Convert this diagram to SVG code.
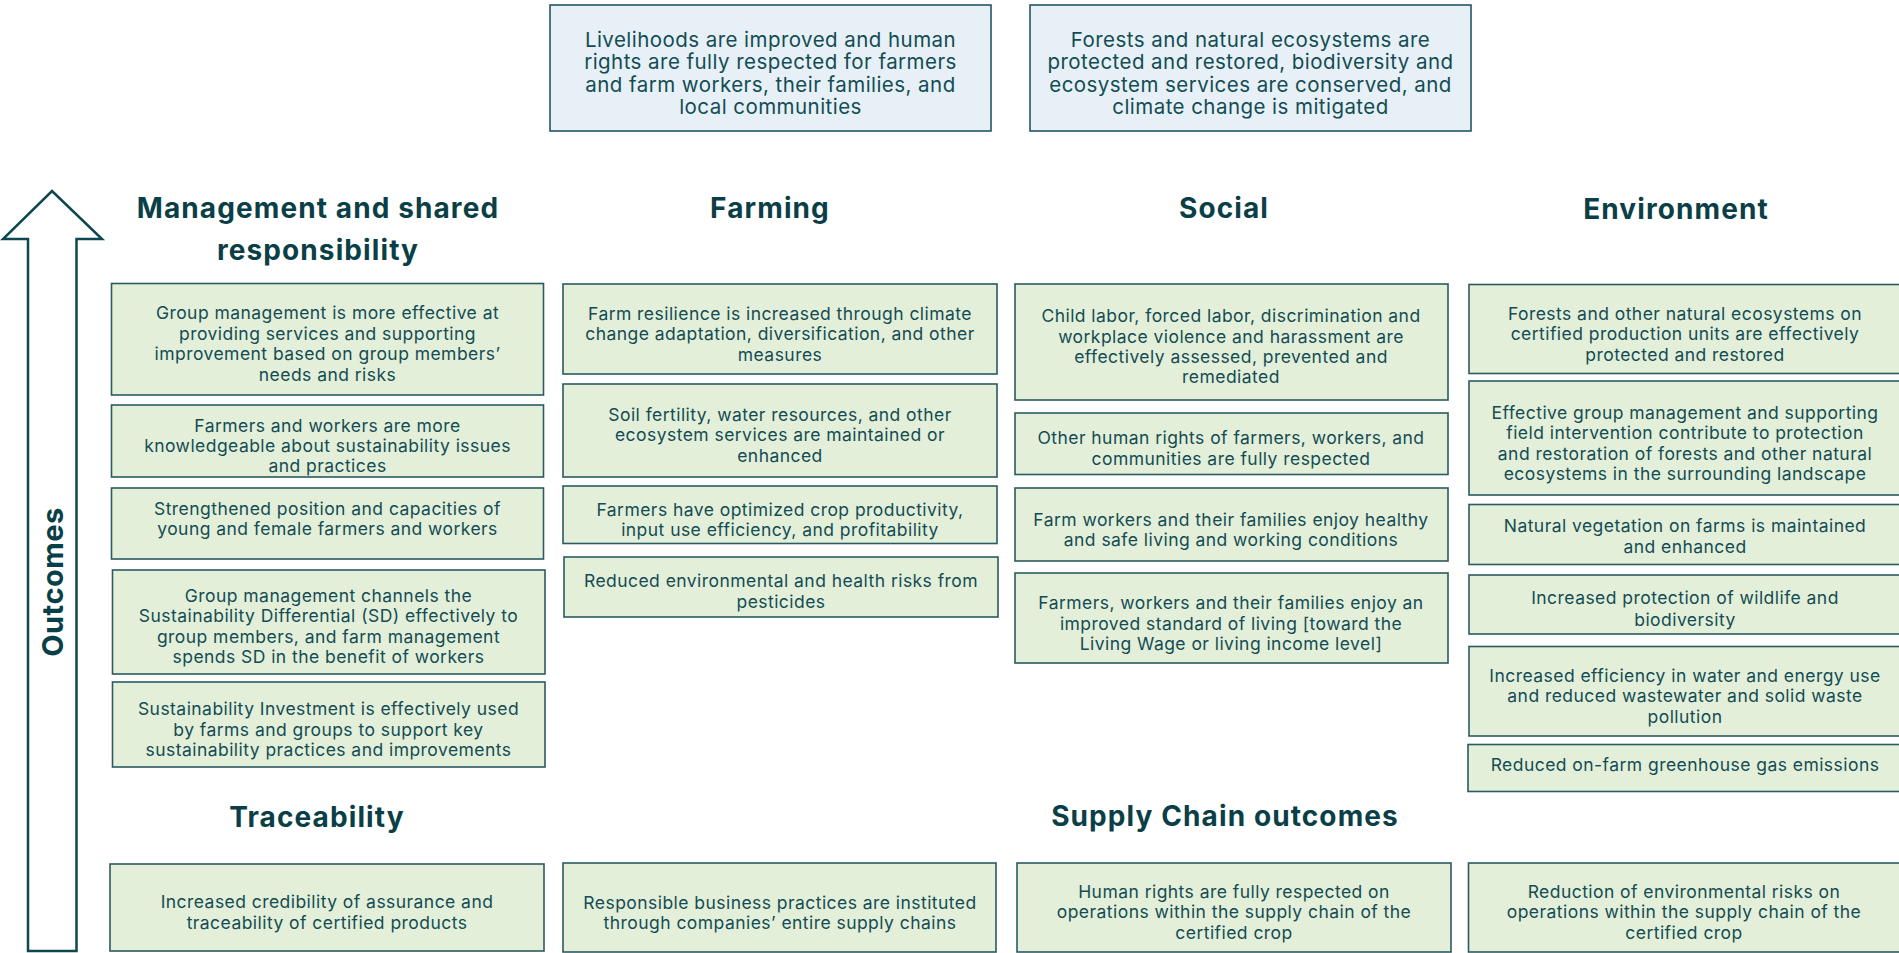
<svg xmlns="http://www.w3.org/2000/svg" width="1899" height="953" viewBox="0 0 1899 953">
<style>
.box{fill:#e3efd9;stroke:#2b5b61;stroke-width:1.6}
.top{fill:#e7f0f6;stroke:#245660;stroke-width:1.6}
.t{font-family:Inter,"Open Sans","Liberation Sans",sans-serif;font-size:17.5px;letter-spacing:0.45px;fill:#134c54;text-anchor:middle}
.tt{font-family:Inter,"Open Sans","Liberation Sans",sans-serif;font-size:20.5px;letter-spacing:0.45px;fill:#134c54;text-anchor:middle}
.h{font-family:Inter,"Open Sans","Liberation Sans",sans-serif;font-size:28px;letter-spacing:1.1px;font-weight:700;fill:#0b3f47;text-anchor:middle}
</style>
<rect width="1899" height="953" fill="#ffffff"/>
<g id="arrow">
<polygon points="52,191 102,239 76.5,239 76.5,951 28,951 28,239 3,239" fill="#ffffff" stroke="#0e4750" stroke-width="2.5" stroke-linejoin="miter"/>
<text class="h" transform="translate(63,582) rotate(-90)" style="font-size:29px;letter-spacing:0.5px">Outcomes</text>
</g>
<g id="goal1"><rect class="top" x="550" y="5" width="441" height="126"/>
<text class="tt"><tspan x="770.5" y="46.5">Livelihoods are improved and human</tspan><tspan x="770.5" y="69">rights are fully respected for farmers</tspan><tspan x="770.5" y="91.5">and farm workers, their families, and</tspan><tspan x="770.5" y="114">local communities</tspan></text></g>
<g id="goal2"><rect class="top" x="1030" y="5" width="441" height="126"/>
<text class="tt"><tspan x="1250.5" y="46.5">Forests and natural ecosystems are</tspan><tspan x="1250.5" y="69">protected and restored, biodiversity and</tspan><tspan x="1250.5" y="91.5">ecosystem services are conserved, and</tspan><tspan x="1250.5" y="114">climate change is mitigated</tspan></text></g>
<g id="headings">
<text class="h"><tspan x="318" y="218">Management and shared</tspan><tspan x="318" y="260">responsibility</tspan></text>
<text class="h" x="770" y="218">Farming</text>
<text class="h" x="1224" y="218">Social</text>
<text class="h" x="1676" y="219">Environment</text>
<text class="h" x="317" y="827">Traceability</text>
<text class="h" x="1225" y="826">Supply Chain outcomes</text>
</g>
<g id="m1"><rect class="box" x="111.5" y="283.5" width="432" height="111.5"/>
<text class="t"><tspan x="327.5" y="319">Group management is more effective at</tspan><tspan x="327.5" y="340">providing services and supporting</tspan><tspan x="327.5" y="360">improvement based on group members’</tspan><tspan x="327.5" y="381">needs and risks</tspan></text></g>
<g id="m2"><rect class="box" x="111.5" y="405" width="432" height="72"/>
<text class="t"><tspan x="327.5" y="432">Farmers and workers are more</tspan><tspan x="327.5" y="452">knowledgeable about sustainability issues</tspan><tspan x="327.5" y="472">and practices</tspan></text></g>
<g id="m3"><rect class="box" x="111.5" y="488" width="432" height="71"/>
<text class="t"><tspan x="327.5" y="515">Strengthened position and capacities of</tspan><tspan x="327.5" y="535">young and female farmers and workers</tspan></text></g>
<g id="m4"><rect class="box" x="112.5" y="570" width="432.5" height="104"/>
<text class="t"><tspan x="328.5" y="601.5">Group management channels the</tspan><tspan x="328.5" y="622">Sustainability Differential (SD) effectively to</tspan><tspan x="328.5" y="643">group members, and farm management</tspan><tspan x="328.5" y="663">spends SD in the benefit of workers</tspan></text></g>
<g id="m5"><rect class="box" x="112.5" y="682" width="432.5" height="85"/>
<text class="t"><tspan x="328.5" y="715">Sustainability Investment is effectively used</tspan><tspan x="328.5" y="735.5">by farms and groups to support key</tspan><tspan x="328.5" y="755.5">sustainability practices and improvements</tspan></text></g>
<g id="f1"><rect class="box" x="563" y="284" width="434" height="90"/>
<text class="t"><tspan x="780" y="320">Farm resilience is increased through climate</tspan><tspan x="780" y="340">change adaptation, diversification, and other</tspan><tspan x="780" y="360.5">measures</tspan></text></g>
<g id="f2"><rect class="box" x="563" y="384" width="434" height="93"/>
<text class="t"><tspan x="780" y="420.5">Soil fertility, water resources, and other</tspan><tspan x="780" y="441">ecosystem services are maintained or</tspan><tspan x="780" y="461.5">enhanced</tspan></text></g>
<g id="f3"><rect class="box" x="563" y="486" width="434" height="57.5"/>
<text class="t"><tspan x="780" y="515.5">Farmers have optimized crop productivity,</tspan><tspan x="780" y="535.5">input use efficiency, and profitability</tspan></text></g>
<g id="f4"><rect class="box" x="564" y="557" width="434" height="60"/>
<text class="t"><tspan x="781" y="587">Reduced environmental and health risks from</tspan><tspan x="781" y="608">pesticides</tspan></text></g>
<g id="s1"><rect class="box" x="1015" y="284" width="433" height="116"/>
<text class="t"><tspan x="1231" y="322">Child labor, forced labor, discrimination and</tspan><tspan x="1231" y="343">workplace violence and harassment are</tspan><tspan x="1231" y="363">effectively assessed, prevented and</tspan><tspan x="1231" y="383">remediated</tspan></text></g>
<g id="s2"><rect class="box" x="1015" y="413" width="433" height="61.5"/>
<text class="t"><tspan x="1231" y="444">Other human rights of farmers, workers, and</tspan><tspan x="1231" y="464.5">communities are fully respected</tspan></text></g>
<g id="s3"><rect class="box" x="1015" y="488" width="433" height="73"/>
<text class="t"><tspan x="1231" y="525.5">Farm workers and their families enjoy healthy</tspan><tspan x="1231" y="545.5">and safe living and working conditions</tspan></text></g>
<g id="s4"><rect class="box" x="1015" y="573" width="433" height="90"/>
<text class="t"><tspan x="1231" y="609">Farmers, workers and their families enjoy an</tspan><tspan x="1231" y="629.5">improved standard of living [toward the</tspan><tspan x="1231" y="649.5">Living Wage or living income level]</tspan></text></g>
<g id="e1"><rect class="box" x="1469" y="284.5" width="434" height="89"/>
<text class="t"><tspan x="1685" y="319.5">Forests and other natural ecosystems on</tspan><tspan x="1685" y="340">certified production units are effectively</tspan><tspan x="1685" y="360.5">protected and restored</tspan></text></g>
<g id="e2"><rect class="box" x="1469" y="381" width="434" height="114"/>
<text class="t"><tspan x="1685" y="418.5">Effective group management and supporting</tspan><tspan x="1685" y="438.7">field intervention contribute to protection</tspan><tspan x="1685" y="459.7">and restoration of forests and other natural</tspan><tspan x="1685" y="479.7">ecosystems in the surrounding  landscape</tspan></text></g>
<g id="e3"><rect class="box" x="1469" y="504.5" width="434" height="60"/>
<text class="t"><tspan x="1685" y="532">Natural vegetation on farms is maintained</tspan><tspan x="1685" y="552.7">and enhanced</tspan></text></g>
<g id="e4"><rect class="box" x="1469" y="575" width="434" height="59"/>
<text class="t"><tspan x="1685" y="604.4">Increased protection of wildlife and</tspan><tspan x="1685" y="625.7">biodiversity</tspan></text></g>
<g id="e5"><rect class="box" x="1469" y="646.5" width="434" height="89.5"/>
<text class="t"><tspan x="1685" y="681.8">Increased efficiency in water and energy use</tspan><tspan x="1685" y="701.8">and reduced wastewater and solid waste</tspan><tspan x="1685" y="722.5">pollution</tspan></text></g>
<g id="e6"><rect class="box" x="1468" y="744.5" width="435" height="47"/>
<text class="t"><tspan x="1685" y="771.4">Reduced on-farm greenhouse gas emissions</tspan></text></g>
<g id="t1"><rect class="box" x="110" y="864" width="434" height="87"/>
<text class="t"><tspan x="327" y="908">Increased credibility of assurance and</tspan><tspan x="327" y="929">traceability of certified products</tspan></text></g>
<g id="t2"><rect class="box" x="563" y="863" width="433" height="89"/>
<text class="t"><tspan x="780" y="909">Responsible business practices are instituted</tspan><tspan x="780" y="929">through companies’ entire supply chains</tspan></text></g>
<g id="sc1"><rect class="box" x="1017" y="863" width="434" height="89"/>
<text class="t"><tspan x="1234" y="898">Human rights are fully respected on</tspan><tspan x="1234" y="918">operations within the supply chain of the</tspan><tspan x="1234" y="939">certified crop</tspan></text></g>
<g id="sc2"><rect class="box" x="1468.5" y="863" width="434" height="89"/>
<text class="t"><tspan x="1684" y="898">Reduction of environmental risks on</tspan><tspan x="1684" y="918">operations within the supply chain of the</tspan><tspan x="1684" y="939">certified crop</tspan></text></g>
<g id="connectors"/>
</svg>
